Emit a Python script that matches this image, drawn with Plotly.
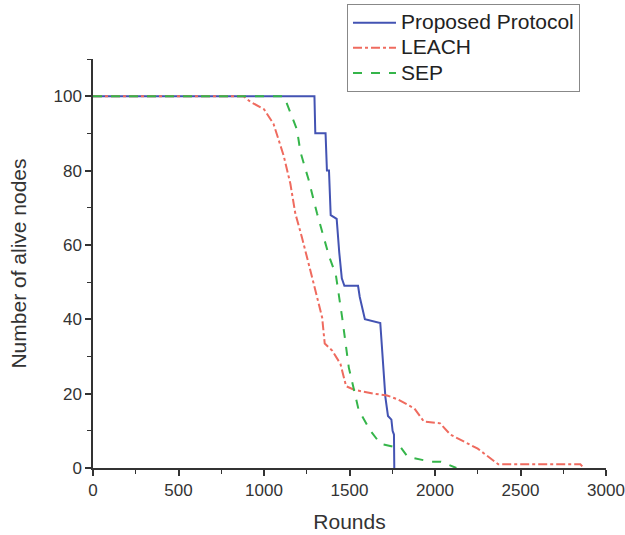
import plotly.graph_objects as go

# Proposed Protocol
prop_x = [0, 1295, 1300, 1360, 1368, 1380, 1390, 1425, 1440, 1455, 1470, 1550, 1560, 1590, 1680, 1690, 1710, 1725, 1745, 1752, 1760, 1762]
prop_y = [100, 100, 90, 90, 80, 80, 68, 67, 58, 51, 49, 49, 46, 40, 39, 32, 19, 14, 13, 10, 9, 0]

# LEACH
leach_x = [0, 880, 920, 1000, 1056, 1115, 1154, 1183, 1222, 1242, 1281, 1291, 1340, 1355, 1400, 1447, 1480, 1530,
           1640, 1720, 1780, 1880, 1935, 2030, 2090, 2210, 2250, 2370, 2750, 2850, 2870]
leach_y = [100, 100, 98.5, 96.5, 92.5, 84, 76.5, 68.5, 62, 58.5, 51.5, 49.5, 40.5, 33.5, 31.5, 28, 22, 21,
           20, 19.5, 18.5, 16, 12.5, 12, 9, 6.2, 5.2, 1, 1, 1, 0]

# SEP
sep_x = [0, 1115, 1134, 1193, 1213, 1261, 1310, 1349, 1380, 1420, 1457, 1496, 1525, 1554, 1623, 1681, 1760, 1800,
         1840, 1975, 2035, 2125]
sep_y = [100, 100, 98, 91, 85, 77.5, 68.5, 62, 57, 52, 40.5, 27, 21, 15.5, 10, 6.5, 5.7, 5.5, 3, 1.7, 1.7, 0]

series_names = ["Proposed Protocol", "LEACH", "SEP"]

x_ticks = [0, 500, 1000, 1500, 2000, 2500, 3000]
y_ticks = [0, 20, 40, 60, 80, 100]

FONT = "Liberation Sans, Arial, sans-serif"


def big(name):
    return '<span style="font-size:21px">' + name + "</span>"


fig = go.Figure()
fig.add_trace(go.Scatter(x=prop_x, y=prop_y, mode="lines", name=big(series_names[0]),
                         line=dict(color="#4353b3", width=2)))
fig.add_trace(go.Scatter(x=leach_x, y=leach_y, mode="lines", name=big(series_names[1]),
                         line=dict(color="#ef6b5f", width=2, dash="dashdot")))
fig.add_trace(go.Scatter(x=sep_x, y=sep_y, mode="lines", name=big(series_names[2]),
                         line=dict(color="#35b54a", width=2, dash="dash")))

axis_common = dict(showgrid=False, zeroline=False, showline=True, linecolor="#333333", linewidth=1.5,
                   ticks="outside", ticklen=6, tickwidth=1.5, tickcolor="#333333", automargin=False,
                   tickfont=dict(family=FONT, size=17, color="#333333"))

fig.update_xaxes(range=[0, 3000], tickvals=x_ticks,
                 title=dict(text="Rounds", font=dict(family=FONT, size=21, color="#333333"), standoff=15),
                 minor=dict(ticks="outside", dtick=250, ticklen=4, tickwidth=1.2, tickcolor="#333333"),
                 **axis_common)
fig.update_yaxes(range=[0, 110], tickvals=y_ticks,
                 title=dict(text="Number of alive nodes", font=dict(family=FONT, size=21, color="#333333"), standoff=21),
                 minor=dict(ticks="outside", dtick=10, ticklen=4, tickwidth=1.2, tickcolor="#333333"),
                 **axis_common)

fig.update_layout(
    width=625, height=535,
    margin=dict(l=93, r=19, t=59, b=67, autoexpand=False),
    plot_bgcolor="white", paper_bgcolor="white",
    legend=dict(x=0.4951, y=1.134, xanchor="left", yanchor="top",
                bgcolor="white", bordercolor="#888888", borderwidth=1,
                font=dict(family=FONT, size=17, color="#222222"),
                tracegroupgap=0, itemwidth=43),
)

fig.write_html("out.html")
